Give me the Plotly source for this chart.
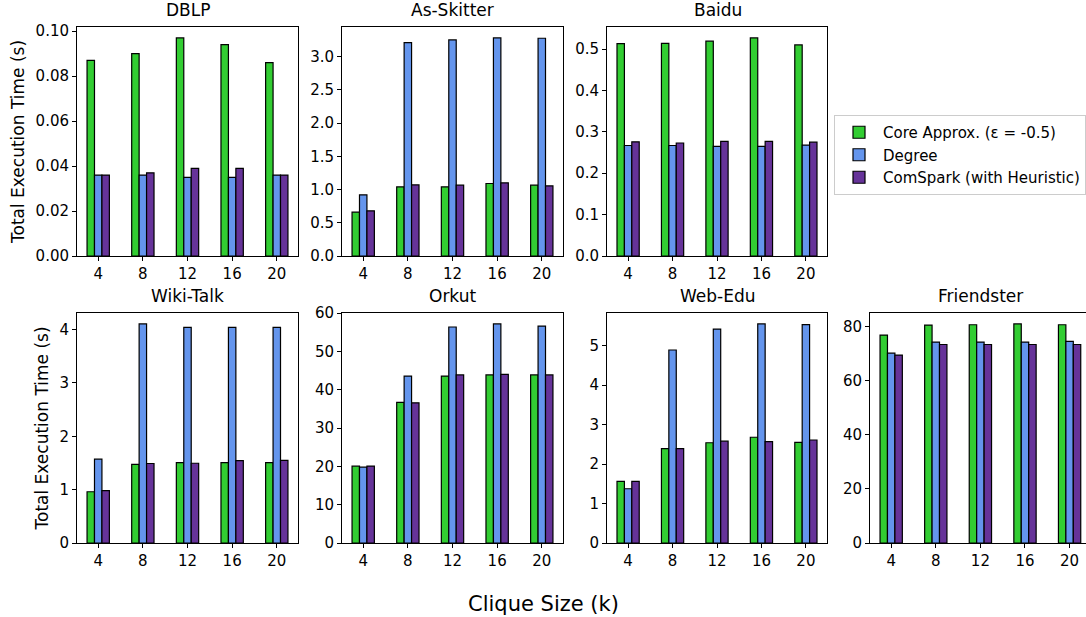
import plotly.graph_objects as go

W, H = 1086, 617

clique_sizes = ["4", "8", "12", "16", "20"]
series_names = ["Core Approx. (ε = -0.5)", "Degree", "ComSpark (with Heuristic)"]
series_colors = ["#32CD32", "#6495ED", "#663399"]

datasets = ["DBLP", "As-Skitter", "Baidu", "Wiki-Talk", "Orkut", "Web-Edu", "Friendster"]

dblp_core = [0.087, 0.090, 0.097, 0.094, 0.086]
dblp_degree = [0.036, 0.036, 0.035, 0.035, 0.036]
dblp_comspark = [0.036, 0.037, 0.039, 0.039, 0.036]

skitter_core = [0.66, 1.04, 1.04, 1.09, 1.065]
skitter_degree = [0.92, 3.21, 3.25, 3.28, 3.275]
skitter_comspark = [0.68, 1.07, 1.065, 1.10, 1.055]

baidu_core = [0.513, 0.514, 0.519, 0.527, 0.510]
baidu_degree = [0.267, 0.267, 0.265, 0.265, 0.268]
baidu_comspark = [0.276, 0.273, 0.277, 0.277, 0.275]

wiki_core = [0.96, 1.475, 1.505, 1.505, 1.505]
wiki_degree = [1.57, 4.105, 4.04, 4.04, 4.04]
wiki_comspark = [0.98, 1.49, 1.495, 1.545, 1.55]

orkut_core = [20.05, 36.7, 43.6, 43.9, 43.9]
orkut_degree = [19.8, 43.6, 56.4, 57.2, 56.65]
orkut_comspark = [20.1, 36.6, 43.9, 44.05, 43.9]

webedu_core = [1.56, 2.39, 2.54, 2.68, 2.55]
webedu_degree = [1.375, 4.89, 5.42, 5.55, 5.535]
webedu_comspark = [1.56, 2.39, 2.58, 2.57, 2.61]

friendster_core = [76.9, 80.6, 80.7, 81.0, 80.7]
friendster_degree = [70.2, 74.3, 74.3, 74.3, 74.55]
friendster_comspark = [69.5, 73.4, 73.4, 73.4, 73.4]

all_values = [
    (dblp_core, dblp_degree, dblp_comspark),
    (skitter_core, skitter_degree, skitter_comspark),
    (baidu_core, baidu_degree, baidu_comspark),
    (wiki_core, wiki_degree, wiki_comspark),
    (orkut_core, orkut_degree, orkut_comspark),
    (webedu_core, webedu_degree, webedu_comspark),
    (friendster_core, friendster_degree, friendster_comspark),
]

y_dticks = [0.02, 0.5, 0.1, 1, 10, 1, 20]
y_formats = [".2f", ".1f", ".1f", "d", "d", "d", "d"]

# axes boxes in pixels: (left, right, top, bottom)
boxes = [
    (77, 298, 27, 256), (342, 563, 27, 256), (607, 827, 27, 256),
    (77, 298, 313, 543), (342, 563, 313, 543), (607, 827, 313, 543),
    (870, 1086, 313, 543),
]

FONT = "DejaVu Sans"
fig = go.Figure()
annotations = []

for i, (name, vals) in enumerate(zip(datasets, all_values)):
    idx = "" if i == 0 else str(i + 1)
    xa, ya = "x" + idx, "y" + idx
    for s, (sname, col) in enumerate(zip(series_names, series_colors)):
        fig.add_trace(go.Bar(
            x=clique_sizes, y=vals[s], name=sname,
            marker=dict(color=col, line=dict(color="black", width=1.2)),
            xaxis=xa, yaxis=ya, showlegend=(i == 0), legendgroup=sname,
        ))
    l, r, t, b = boxes[i]
    ymax = max(max(v) for v in vals) * 1.05
    right_cut = (i == 6)
    xr_hi = 4.475 if not right_cut else -0.475 + (r - l) / 44.6
    fig.layout["xaxis" + idx] = dict(
        domain=[l / W, r / W], anchor=ya, type="category", automargin=False,
        range=[-0.475, xr_hi], showline=True, linecolor="black", linewidth=1,
        mirror=True, ticks="outside", ticklen=4, tickcolor="black",
        showgrid=False, zeroline=False,
        tickfont=dict(family=FONT, size=15, color="black"),
    )
    fig.layout["yaxis" + idx] = dict(
        domain=[1 - b / H, 1 - t / H], anchor=xa, range=[0, ymax], automargin=False,
        dtick=y_dticks[i], tick0=0, tickformat=y_formats[i],
        showline=True, linecolor="black", linewidth=1, mirror=not right_cut,
        ticks="outside", ticklen=4, tickcolor="black",
        showgrid=False, zeroline=False,
        tickfont=dict(family=FONT, size=15, color="black"),
        title=dict(text="Total Execution Time (s)" if i in (0, 3) else "",
                   font=dict(family=FONT, size=17, color="black"), standoff=6),
    )
    annotations.append(dict(
        text=name, x=(l + (l + 221)) / 2 / W, y=1 - (t - 5) / H,
        xref="paper", yref="paper", xanchor="center", yanchor="bottom",
        showarrow=False, font=dict(family=FONT, size=17, color="black"),
    ))

annotations.append(dict(
    text="Clique Size (k)", x=0.5, y=1 - 604 / H,
    xref="paper", yref="paper", xanchor="center", yanchor="middle",
    showarrow=False, font=dict(family=FONT, size=21, color="black"),
))

fig.update_layout(
    width=W, height=H, margin=dict(l=0, r=0, t=0, b=0, autoexpand=False),
    paper_bgcolor="white", plot_bgcolor="white",
    barmode="group", bargap=0.5, bargroupgap=0,
    annotations=annotations,
    legend=dict(
        x=834 / W, y=1 - 115 / H, xanchor="left", yanchor="top",
        bordercolor="#cccccc", borderwidth=1, bgcolor="white",
        font=dict(family=FONT, size=15, color="black"),
        tracegroupgap=0, itemwidth=38,
    ),
    font=dict(family=FONT),
)

fig.write_html("out.html")
